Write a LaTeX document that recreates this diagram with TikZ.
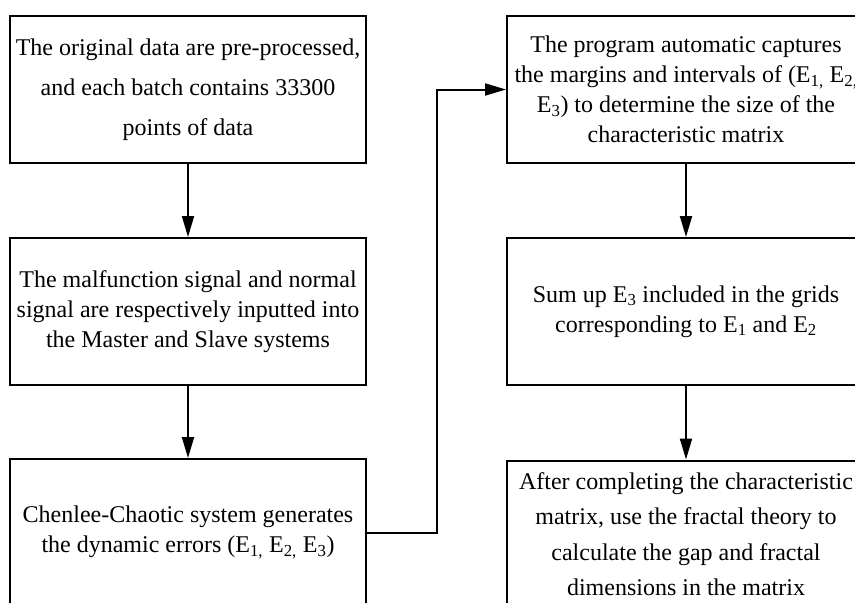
\documentclass[tikz,border=0pt]{standalone}
\usepackage{fontspec}
\setmainfont{Liberation Serif}
\usetikzlibrary{arrows.meta}
\tikzset{
  flowbox/.style={draw, line width=2pt, minimum width=356pt, minimum height=147pt, align=center, inner sep=0pt},
  flowarrow/.style={line width=2pt, -{Triangle[length=21pt,width=12pt]}}
}
\newcommand{\Esub}[1]{E\textsubscript{#1}}
\begin{document}
\begin{tikzpicture}[x=1pt,y=-1pt]
\useasboundingbox (0,0) rectangle (855,603);
\clip (0,0) rectangle (855,603);
\fill[white] (0,0) rectangle (855,603);
\node[flowbox, font=\fontsize{24}{40}\selectfont] (b1) at (188,89.5)
  {The original data are pre-processed,\\and each batch contains 33300\\points of data};
\node[flowbox, font=\fontsize{24}{30}\selectfont] (b2) at (188,311.5)
  {The malfunction signal and normal\\signal are respectively inputted into\\the Master and Slave systems};
\node[flowbox, font=\fontsize{24}{30}\selectfont] (b3) at (188,532.5)
  {Chenlee-Chaotic system generates\\the dynamic errors (\Esub{1,} \Esub{2,} \Esub{3})};
\node[flowbox, minimum width=358pt, font=\fontsize{24}{30}\selectfont] (b4) at (686,89.5)
  {The program automatic captures\\the margins and intervals of (\Esub{1,} \Esub{2,}\\\Esub{3}) to determine the size of the\\characteristic matrix};
\node[flowbox, minimum width=358pt, font=\fontsize{24}{30}\selectfont] (b5) at (686,311.5)
  {Sum up \Esub{3} included in the grids\\corresponding to \Esub{1} and \Esub{2}};
\node[flowbox, minimum width=358pt, font=\fontsize{24}{35.5}\selectfont] (b6) at (686,534)
  {After completing the characteristic\\matrix, use the fractal theory to\\calculate the gap and fractal\\dimensions in the matrix};
\coordinate (bend) at (437,532.5);
\draw[flowarrow] (b1.south) -- (b2.north);
\draw[flowarrow] (b2.south) -- (b3.north);
\draw[flowarrow] (b3.east) -- (bend) |- (b4.west);
\draw[flowarrow] (b4.south) -- (b5.north);
\draw[flowarrow] (b5.south) -- (b6.north);
\end{tikzpicture}
\end{document}
